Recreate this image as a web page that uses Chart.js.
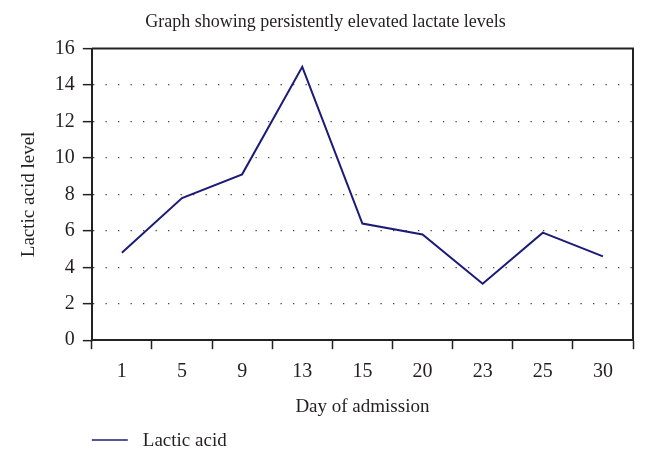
<!DOCTYPE html>
<html>
<head>
<meta charset="utf-8">
<script src="https://cdn.jsdelivr.net/npm/chart.js@4"></script>
<style>
  html, body { margin: 0; padding: 0; background: #fff; }
  #wrap { width: 648px; height: 461px; }
</style>
</head>
<body>
<div id="wrap"><canvas id="c" width="648" height="461"></canvas></div>
<script>
const days = ['1', '5', '9', '13', '15', '20', '23', '25', '30'];
const lacticAcid = [4.8, 7.8, 9.1, 15.0, 6.4, 5.8, 3.1, 5.9, 4.6];
const yTicks = [0, 2, 4, 6, 8, 10, 12, 14, 16];

const chartTitle = 'Graph showing persistently elevated lactate levels';
const xTitle = 'Day of admission';
const yTitle = 'Lactic acid level';
const seriesName = 'Lactic acid';

const FONT = '"Liberation Serif", "DejaVu Serif", serif';
const INK = '#231f20';
const LINE = '#1c1c78';

const frame = {
  id: 'frame',
  afterDatasetsDraw(chart) {
    const {ctx, chartArea: a} = chart;
    ctx.save();
    ctx.strokeStyle = '#222';
    ctx.lineWidth = 2;
    ctx.beginPath();
    ctx.moveTo(a.left, a.top);
    ctx.lineTo(a.right, a.top);
    ctx.lineTo(a.right, a.bottom);
    ctx.stroke();
    ctx.restore();
  }
};

const legendLine = {
  id: 'legendLine',
  afterDraw(chart) {
    const {ctx, chartArea: a} = chart;
    const ds = chart.data.datasets[0];
    const y = chart.height - 21;
    ctx.save();
    ctx.strokeStyle = ds.borderColor;
    ctx.lineWidth = 1.5;
    ctx.beginPath();
    ctx.moveTo(a.left, y);
    ctx.lineTo(a.left + 36, y);
    ctx.stroke();
    ctx.fillStyle = INK;
    ctx.font = '19px ' + FONT;
    ctx.textBaseline = 'middle';
    ctx.fillText(ds.label, a.left + 51, y + 1);
    ctx.restore();
  }
};

new Chart(document.getElementById('c'), {
  type: 'line',
  data: {
    labels: days,
    datasets: [{
      label: seriesName,
      data: lacticAcid,
      borderColor: LINE,
      backgroundColor: LINE,
      borderWidth: 2,
      pointRadius: 0,
      tension: 0,
      fill: false
    }]
  },
  options: {
    responsive: false,
    animation: false,
    devicePixelRatio: 1,
    layout: { padding: { top: 3, left: 18, right: 15, bottom: 43 } },
    plugins: {
      legend: { display: false },
      tooltip: { enabled: false },
      title: {
        display: true,
        text: chartTitle,
        color: INK,
        font: { family: FONT, size: 18, weight: 'normal' },
        padding: { top: 8, bottom: 16 }
      }
    },
    scales: {
      x: {
        type: 'category',
        offset: true,
        grid: {
          offset: true,
          drawOnChartArea: false,
          drawTicks: true,
          tickLength: 9,
          tickColor: '#222',
          tickWidth: 1.5
        },
        border: { display: true, color: '#222', width: 2 },
        ticks: {
          color: INK,
          font: { family: FONT, size: 20 },
          padding: 11,
          maxRotation: 0
        },
        title: {
          display: true,
          text: xTitle,
          color: INK,
          font: { family: FONT, size: 19 },
          padding: { top: 0, bottom: 0 }
        }
      },
      y: {
        min: 0,
        max: 16,
        afterBuildTicks(scale) {
          scale.ticks = yTicks.map(v => ({ value: v }));
        },
        grid: {
          color: ctx => (ctx.tick && (ctx.tick.value === 0 || ctx.tick.value === 16)) ? 'rgba(0,0,0,0)' : '#444',
          lineWidth: 1.3,
          drawTicks: true,
          tickLength: 9,
          tickColor: '#222',
          tickWidth: 1.5
        },
        border: { display: true, color: '#222', width: 2, dash: [1.3, 11.2] },
        ticks: {
          color: INK,
          font: { family: FONT, size: 20 },
          padding: 8
        },
        title: {
          display: true,
          text: yTitle,
          color: INK,
          font: { family: FONT, size: 19 },
          padding: { top: 0, bottom: 6 }
        }
      }
    }
  },
  plugins: [frame, legendLine]
});
</script>
</body>
</html>
